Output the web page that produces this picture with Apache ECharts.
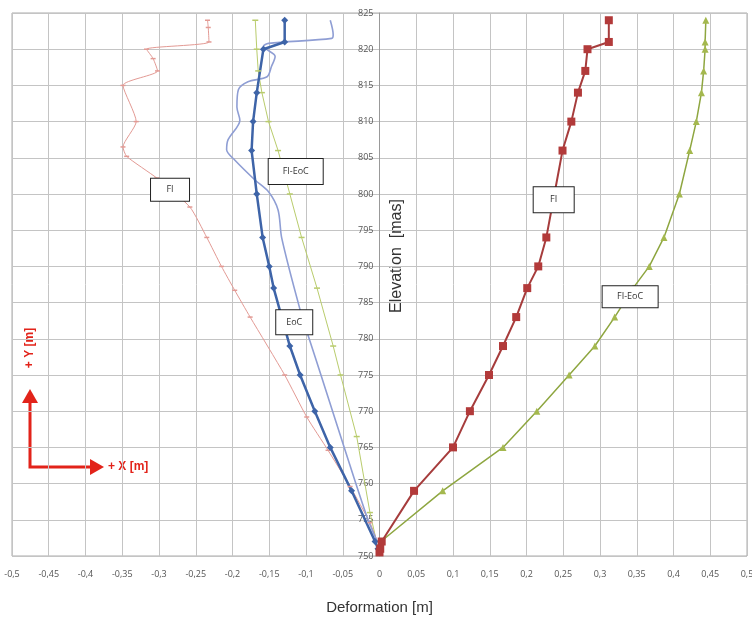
<!DOCTYPE html>
<html><head><meta charset="utf-8">
<script src="https://cdn.jsdelivr.net/npm/echarts@6/dist/echarts.min.js"></script>
<style>html,body{margin:0;padding:0;background:#fff}#c{width:752px;height:621px}</style>
</head><body><div id="c"></div>
<script>
// X tick values (labels shown with decimal comma)
var xTicks = [-0.5,-0.45,-0.4,-0.35,-0.3,-0.25,-0.2,-0.15,-0.1,-0.05,0,0.05,0.1,0.15,0.2,0.25,0.3,0.35,0.4,0.45,0.5];
var yTicks = [750,755,760,765,770,775,780,785,790,795,800,805,810,815,820,825];

// Right side: FI (measured, squares)
var fiRightElev = [824,821,820,817,814,810,806,800,794,790,787,783,779,775,770,765,759,752,751,750.5];
var fiRightDef  = [0.312,0.312,0.283,0.280,0.270,0.261,0.249,0.238,0.227,0.216,0.201,0.186,0.168,0.149,0.123,0.100,0.047,0.003,0.001,0.0];

// Right side: FI-EoC (triangles)
var fiEocRightElev = [824,821,820,817,814,810,806,800,794,790,787,783,779,775,770,765,759,752,751,750.5];
var fiEocRightDef  = [0.444,0.443,0.443,0.441,0.438,0.431,0.422,0.408,0.387,0.367,0.345,0.320,0.293,0.258,0.214,0.168,0.086,0.002,0.001,0.0];

// Left side: FI (thin salmon)
var fiLeftElev = [824,823,821,820,818.7,817,815,810,806.5,805.2,802.2,798.2,794,790,786.7,783,775,769.2,764.6,759.6,754.6,752];
var fiLeftDef  = [-0.234,-0.233,-0.232,-0.317,-0.308,-0.302,-0.349,-0.331,-0.349,-0.344,-0.303,-0.258,-0.235,-0.215,-0.197,-0.176,-0.129,-0.099,-0.070,-0.040,-0.013,-0.003];

// Left side: EoC (dark blue, markers)
var eocElev = [824,821,820,814,810,806,800,794,790,787,783,779,775,770,765,759,752,751];
var eocDef  = [-0.129,-0.129,-0.158,-0.167,-0.172,-0.174,-0.167,-0.159,-0.150,-0.144,-0.133,-0.122,-0.108,-0.088,-0.067,-0.038,-0.006,-0.002];

// Left side: EoC model (periwinkle curve)
var eocModelElev = [824,822,821.5,820.8,820.4,819,817.6,816.2,815.5,814.4,812,810.2,807.5,806.1,804.7,801.9,800.3,797.8,793.9,784,779.8,774.8,765,755.4,752];
var eocModelDef  = [-0.067,-0.063,-0.065,-0.151,-0.158,-0.142,-0.147,-0.153,-0.179,-0.192,-0.194,-0.190,-0.206,-0.208,-0.197,-0.169,-0.151,-0.138,-0.133,-0.108,-0.095,-0.079,-0.048,-0.017,-0.003];

// Left side: FI-EoC (thin light green)
var fiEocLeftElev = [824,820,817,814,810,806,800,794,787,779,775,766.5,756,752];
var fiEocLeftDef  = [-0.169,-0.167,-0.165,-0.160,-0.151,-0.138,-0.122,-0.106,-0.085,-0.063,-0.053,-0.031,-0.013,-0.004];

function zip(d, e){ return d.map(function(v,i){ return [v, e[i]]; }); }
function boxLabel(text, w, h){
  return {show:true, position:'inside', formatter:text, color:'#333', fontSize:9, fontFamily:'Open Sans, sans-serif',
    backgroundColor:'#fff', borderColor:'#222', borderWidth:1, width:w, height:h, lineHeight:h, align:'center', verticalAlign:'middle'};
}
function mp(coord, text, w, h){
  return {symbol:'rect', symbolSize:1, itemStyle:{color:'rgba(0,0,0,0)'}, silent:true,
    data:[{coord:coord, label:boxLabel(text,w,h)}]};
}

var chart = echarts.init(document.getElementById('c'));
var red = '#e2231a';
chart.setOption({
  animation:false,
  backgroundColor:'#fff',
  grid:{left:12, right:5, top:13, bottom:65, show:true, borderColor:'#aaa', borderWidth:1, outerBoundsMode:'none', containLabel:false},
  xAxis:{type:'value', min:-0.5, max:0.5, interval:0.05,
    name:'Deformation [m]', nameLocation:'middle', nameGap:44,
    nameTextStyle:{fontSize:15, color:'#333', fontFamily:'Liberation Sans, Arial'},
    axisLine:{show:false}, axisTick:{show:false},
    axisLabel:{fontSize:9, color:'#555', margin:14, fontFamily:'Open Sans, sans-serif',
      formatter:function(v){ var r = Math.round(v*100)/100; return String(r).replace('.', ','); }},
    splitLine:{show:true, lineStyle:{color:'#c4c4c4', width:1}}
  },
  yAxis:{type:'value', min:750, max:825, interval:5, offset:-367.5,
    axisLine:{show:true, onZero:false, lineStyle:{color:'#999'}}, axisTick:{show:false},
    axisLabel:{fontSize:9, color:'#555', margin:6, fontFamily:'Open Sans, sans-serif'},
    splitLine:{show:true, lineStyle:{color:'#c4c4c4', width:1}}
  },
  series:[
    {name:'FI-EoC left', type:'line', data:zip(fiEocLeftDef, fiEocLeftElev), symbol:'rect', symbolSize:[6,1.5],
      lineStyle:{color:'#b9cc6c', width:1}, itemStyle:{color:'#b9cc6c'},
      markPoint:mp([-0.114,803.1],'FI-EoC',54,25)},
    {name:'FI left', type:'line', data:zip(fiLeftDef, fiLeftElev), symbol:'rect', symbolSize:[5,1.5], smooth:0.2,
      lineStyle:{color:'#e39a94', width:1}, itemStyle:{color:'#e39a94'},
      markPoint:mp([-0.285,800.6],'FI',38,22)},
    {name:'EoC model', type:'line', data:zip(eocModelDef, eocModelElev), showSymbol:false, smooth:0.3,
      lineStyle:{color:'#8f9ed4', width:1.6}},
    {name:'EoC', type:'line', data:zip(eocDef, eocElev), symbol:'diamond', symbolSize:7,
      lineStyle:{color:'#3e64a8', width:2.5}, itemStyle:{color:'#3e64a8'},
      markPoint:mp([-0.116,782.3],'EoC',36,24)},
    {name:'FI-EoC right', type:'line', data:zip(fiEocRightDef, fiEocRightElev), symbol:'triangle', symbolSize:7,
      lineStyle:{color:'#8ea640', width:1.5}, itemStyle:{color:'#a4b84e'},
      markPoint:mp([0.341,785.8],'FI-EoC',55,21)},
    {name:'FI right', type:'line', data:zip(fiRightDef, fiRightElev), symbol:'rect', symbolSize:8,
      lineStyle:{color:'#a63c3c', width:2}, itemStyle:{color:'#b23a3a'},
      markPoint:mp([0.237,799.2],'FI',40,25)}
  ],
  graphic:[
    {type:'text', x:397, y:256, rotation:Math.PI/2, style:{text:'Elevation  [mas]', fontSize:16, fill:'#333',
      fontFamily:'Liberation Sans, Arial', textAlign:'center', textVerticalAlign:'middle'}},
    {type:'polyline', shape:{points:[[30,399],[30,467],[93,467]]}, style:{stroke:red, lineWidth:3, fill:null}},
    {type:'polygon', shape:{points:[[22,403],[38,403],[30,389]]}, style:{fill:red}},
    {type:'polygon', shape:{points:[[90,459],[90,475],[104,467]]}, style:{fill:red}},
    {type:'text', x:108, y:467, style:{text:'+ X [m]', fontSize:12, fontWeight:'bold', fill:red,
      fontFamily:'Liberation Sans, Arial', textVerticalAlign:'middle'}},
    {type:'text', x:30, y:348, rotation:Math.PI/2, style:{text:'+ Y [m]', fontSize:12, fontWeight:'bold', fill:red,
      fontFamily:'Liberation Sans, Arial', textAlign:'center', textVerticalAlign:'middle'}}
  ]
});
</script></body></html>
